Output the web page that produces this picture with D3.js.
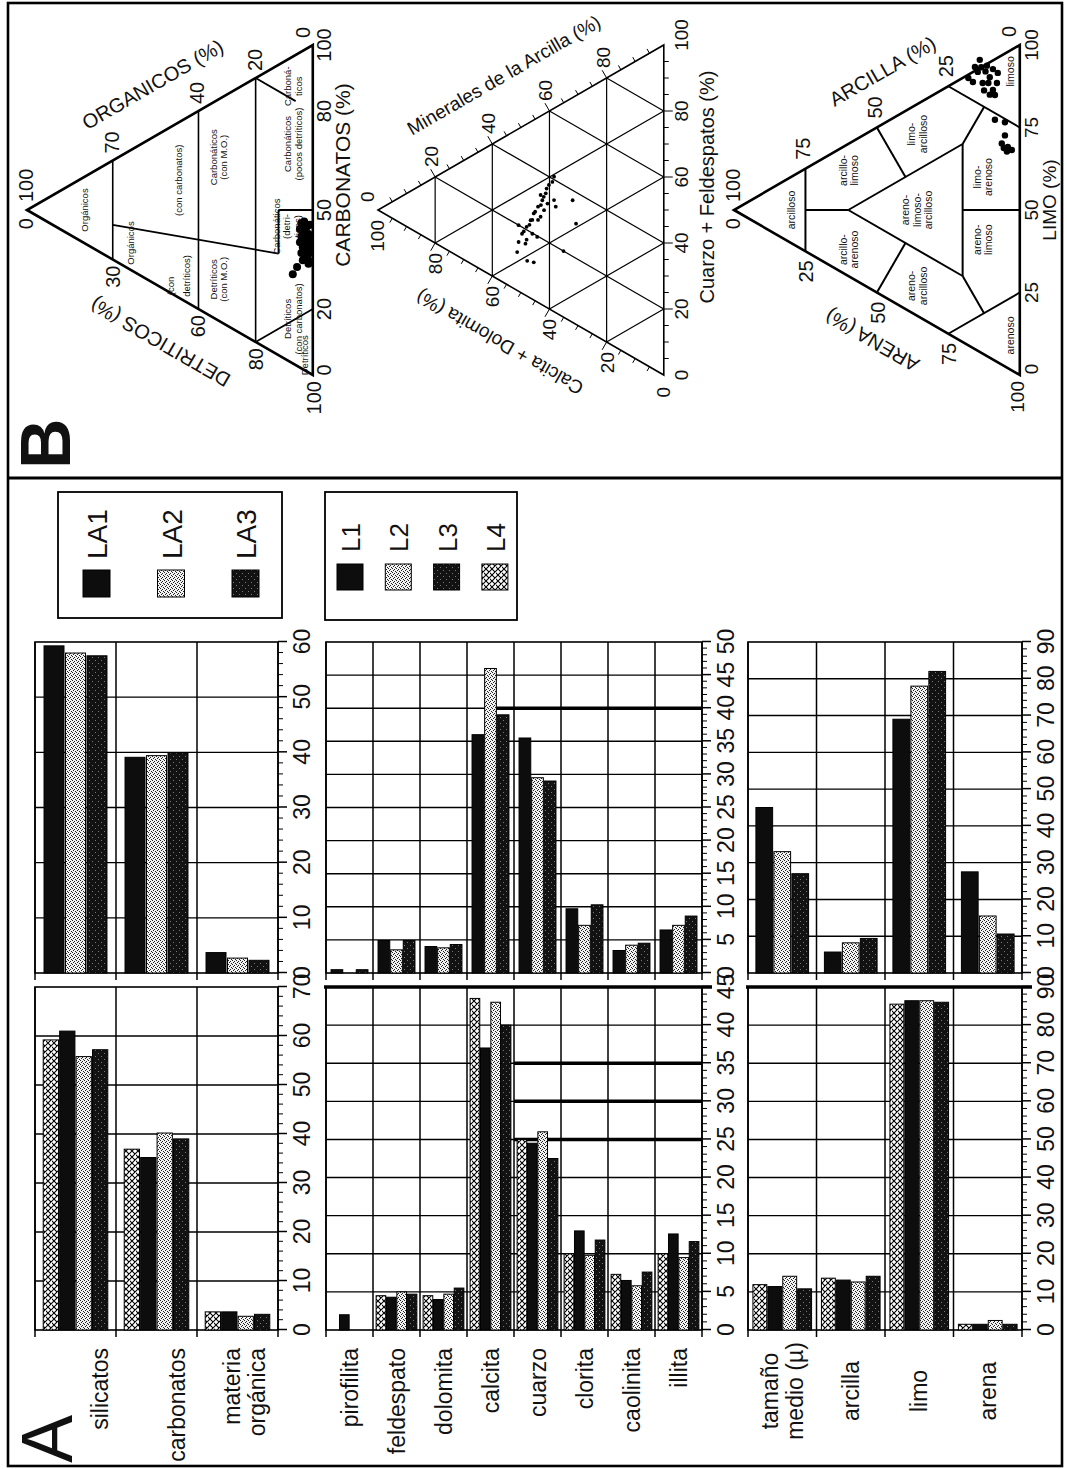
<!DOCTYPE html>
<html>
<head>
<meta charset="utf-8">
<script src="https://cdn.jsdelivr.net/npm/d3@7"></script>
<style>
  body { margin: 0; background: #fff; }
  svg text { font-family: "Liberation Sans", Arial, Helvetica, sans-serif; fill: #111; }
</style>
</head>
<body>
<svg id="fig" width="1067" height="1469"></svg>
<script>
// the figure is drawn landscape (1469 x 1067) and then turned a quarter to the left

// ---------- A : bar charts ----------
var bulkCats = ['silicatos', 'carbonatos', 'materia orgánica'];
var mineralCats = ['pirofilita', 'feldespato', 'dolomita', 'calcita', 'cuarzo', 'clorita', 'caolinita', 'illita'];
var grainCats = ['tamaño medio (µ)', 'arcilla', 'limo', 'arena'];

var lSeries = ['L4', 'L1', 'L2', 'L3'];   // order of the bars inside a group
var laSeries = ['LA1', 'LA2', 'LA3'];
var lLegend = ['L1', 'L2', 'L3', 'L4'];

var bulkL = [[59.2, 61.0, 55.8, 57.2], [36.9, 35.2, 40.2, 39.0], [3.7, 3.7, 2.8, 3.2]];
var bulkLA = [[59.3, 58.0, 57.5], [39.1, 39.4, 39.9], [3.7, 2.7, 2.3]];
var mineralL = [[0, 2.0, 0, 0], [4.5, 4.3, 5.0, 4.7], [4.5, 4.0, 4.7, 5.5], [43.5, 37.0, 43.0, 40.0],
                [25.0, 24.5, 26.0, 22.5], [10.0, 13.0, 9.8, 11.8], [7.3, 6.5, 5.8, 7.6], [10.0, 12.6, 9.5, 11.6]];
var mineralLA = [[0.5, 0, 0.5], [4.9, 3.5, 4.9], [4.0, 3.8, 4.3], [36.0, 46.0, 39.0],
                 [35.5, 29.5, 29.0], [9.7, 7.2, 10.3], [3.4, 4.2, 4.5], [6.5, 7.2, 8.6]];
var grainL = [[11.9, 11.4, 14.1, 10.8], [13.6, 13.1, 12.6, 14.1], [85.5, 86.4, 86.4, 86.0], [1.5, 1.5, 2.5, 1.5]];
var grainLA = [[45.0, 33.0, 27.0], [5.7, 8.2, 9.4], [69.0, 78.0, 82.0], [27.5, 15.5, 10.6]];

var ticks70 = [0, 10, 20, 30, 40, 50, 60, 70];
var ticks60 = [0, 10, 20, 30, 40, 50, 60];
var ticks45 = [0, 5, 10, 15, 20, 25, 30, 35, 40, 45];
var ticks50 = [0, 5, 10, 15, 20, 25, 30, 35, 40, 45, 50];
var ticks90 = [0, 10, 20, 30, 40, 50, 60, 70, 80, 90];

// ---------- B : ternary diagrams ----------
// organicos / carbonatos (%)
var organicPts = [[4.5, 38], [4.5, 42], [4, 35], [4, 40], [4, 44], [3.5, 37], [3.5, 33], [3.5, 41], [3, 45], [3, 36],
                  [3, 39], [3, 43], [2.5, 34], [2.5, 38], [2.5, 42], [2, 35], [2, 37], [2, 40], [2, 44], [1.5, 33],
                  [1.5, 36], [1.5, 39], [1.5, 42], [1, 34], [1, 38], [1, 41], [1, 45], [7, 27], [5.5, 30]];
// calcita+dolomita / cuarzo+feldespatos (%)
var mineralPts = [[38.4, 40.9], [40.2, 37.5], [41.3, 34.4], [42.5, 31.7], [44, 29], [45.5, 26.2], [46.6, 23.6],
                  [48, 20.9], [49.6, 18], [50.8, 14.9], [51.3, 11.6], [47.8, 10.7], [45.5, 11.4], [38.4, 33.8],
                  [37.8, 32.1], [31.9, 37], [30.7, 30.5], [35.1, 20], [43.1, 26.4], [41.9, 29], [46, 19.8],
                  [48.4, 15.6], [44.3, 19.7], [50.8, 20], [43.1, 33], [40.7, 31.6], [39, 39], [41, 36],
                  [43, 30], [45, 27], [47, 22], [49, 19], [42, 33], [44, 25], [46, 24], [48, 17]];
// arcilla / limo (%)
var texturePts = [[18, 81], [15.7, 85.5], [14, 88.5], [11.5, 88], [9.4, 88], [10.5, 85], [13, 82], [14.7, 84.5],
                  [16.4, 80.6], [8, 84.5], [7.7, 87.7], [9.4, 81.7], [10.5, 79.7], [8.7, 80.5], [12, 86],
                  [13.5, 86.5], [11, 83], [12.5, 80], [8.7, 73], [5.2, 74], [5.2, 70], [6.3, 67], [4.2, 67],
                  [4.5, 65.5], [2.8, 66.8], [5.6, 66]];

var t1Left = [30, 60, 80];          // DETRITICOS
var t1Right = [70, 40, 20];         // ORGANICOS
var t1Base = [0, 20, 50, 80, 100];  // CARBONATOS
var t2Side = [20, 40, 60, 80];
var t2Base = [0, 20, 40, 60, 80, 100];
var t3Side = [25, 50, 75];
var t3Base = [0, 25, 50, 75, 100];

// classification boundaries, as [top, right] fractions
var t1Lines = [[[.7, 0], [.7, .3]], [[.4, 0], [.4, .6]], [[.2, 0], [.2, .8]],
               [[.7, .105], [.12, .308]], [[.12, .308], [.12, .44]], [[.12, .44], [0, .5]],
               [[.2, 0], [0, .2]], [[.2, .8], [.06, .8]]];
var t3Lines = [[[.75, 0], [.75, .25]], [[.75, .125], [.6, .2]], [[.6, .2], [.2, .6]], [[.6, .2], [.2, .2]],
               [[.2, .2], [.2, .6]], [[.4, .4], [.5, .5]], [[.4, .2], [.5, 0]], [[.2, .6], [.125, .75]],
               [[.25, .75], [0, .75]], [[.2, .2], [.125, .125]], [[.25, 0], [0, .25]], [[.2, .4], [0, .5]]];

// region names, [lines], top fraction of first line, lateral position along the base
var t1Names = [
  [['Orgánicos'], .80, .50], [['Orgánicos'], .64, .40], [['(con'], .50, .27], [['detríticos)'], .445, .30],
  [['(con carbonatos)'], .47, .59], [['Carbonáticos', '(con M.O.)'], .35, .66], [['Detríticos', '(con M.O.)'], .35, .29],
  [['Detríticos', '(con carbonatos)'], .09, .17], [['Carbonáticos', '(pocos detríticos)'], .09, .70],
  [['Carbonáticos', '(detri-', 'ticos)'], .13, .45], [['Carboná-', 'ticos'], .09, .875], [['Detríticos'], .03, .06]];
var t3Names = [
  [['arcilloso'], .80, .5], [['arcillo-', 'limoso'], .62, .62], [['arcillo-', 'arenoso'], .62, .38],
  [['limo-', 'arcilloso'], .38, .73], [['areno-', 'limoso-', 'arcilloso'], .40, .5], [['areno-', 'arcilloso'], .38, .27],
  [['limo-', 'arenoso'], .15, .6], [['areno-', 'limoso'], .15, .41], [['arenoso'], .035, .12], [['limoso'], .035, .92]];

var svg = d3.select('#fig');
var defs = svg.append('defs');

function pattern(id, size, bg, draw) {
  var p = defs.append('pattern').attr('id', id).attr('patternUnits', 'userSpaceOnUse')
    .attr('width', size).attr('height', size);
  p.append('rect').attr('width', size).attr('height', size).attr('fill', bg);
  draw(p);
}
pattern('pDots', 4, '#f2f2f2', function (p) {
  [[0, 0], [2, 1], [1, 3], [3, 2]].forEach(function (d) {
    p.append('rect').attr('x', d[0]).attr('y', d[1]).attr('width', 1).attr('height', 1).attr('fill', '#222');
  });
});
pattern('pDark', 6, '#121212', function (p) {
  [[1, 2], [4, 5]].forEach(function (d) {
    p.append('rect').attr('x', d[0]).attr('y', d[1]).attr('width', 1).attr('height', 1).attr('fill', '#777');
  });
});
pattern('pCross', 6, '#fff', function (p) {
  p.append('path').attr('d', 'M0,0L6,6M6,0L0,6M-1,5L1,7M5,-1L7,1').attr('stroke', '#000').attr('stroke-width', 1.1);
});

var fills = {L1: '#0d0d0d', L2: 'url(#pDots)', L3: 'url(#pDark)', L4: 'url(#pCross)',
             LA1: '#0d0d0d', LA2: 'url(#pDots)', LA3: 'url(#pDark)'};

var g = svg.append('g').attr('transform', 'translate(0,1469) rotate(-90)');

var charts = [
  {cats: bulkCats, series: lSeries, vals: bulkL, ticks: ticks70, minor: 2, x0: 139, x1: 482, y0: 35, y1: 278,
   padOut: 0.5, labels: true, anchor: 'end', shift: [24, 20, 7], heavy: []},
  {cats: bulkCats, series: laSeries, vals: bulkLA, ticks: ticks60, minor: 2, x0: 496, x1: 827, y0: 35, y1: 278,
   padOut: 0.42, heavy: []},
  {cats: mineralCats, series: lSeries, vals: mineralL, ticks: ticks45, minor: 1, x0: 139, x1: 482, y0: 326, y1: 702,
   padOut: 0.3, labels: true, anchor: 'end', heavy: [[45, 0], [35, 4], [30, 4], [25, 4]]},
  {cats: mineralCats, series: laSeries, vals: mineralLA, ticks: ticks50, minor: 1, x0: 496, x1: 827, y0: 326, y1: 702,
   padOut: 0.4, heavy: [[40, 3.55]]},
  {cats: grainCats, series: lSeries, vals: grainL, ticks: ticks90, minor: 2, x0: 139, x1: 482, y0: 748, y1: 1022,
   padOut: 0.33, labels: true, anchor: 'middle', heavy: [[90, 0]]},
  {cats: grainCats, series: laSeries, vals: grainLA, ticks: ticks90, minor: 2, x0: 496, x1: 827, y0: 748, y1: 1022,
   padOut: 0.44, heavy: []}
];

function catLines(name) {
  var i = name.indexOf(' ');
  return (name.length > 11 && i > 0) ? [name.slice(0, i), name.slice(i + 1)] : [name];
}

charts.forEach(function (c) {
  var max = c.ticks[c.ticks.length - 1];
  var x = d3.scaleLinear().domain([0, max]).range([c.x0, c.x1]);
  var y = d3.scaleBand().domain(c.cats).range([c.y0, c.y1]);
  var inner = d3.scaleBand().domain(c.series).range([0, y.bandwidth()]).paddingInner(0.07).paddingOuter(c.padOut);
  var cg = g.append('g');

  cg.selectAll('line.grid').data(c.ticks.slice(1, -1)).enter().append('line')
    .attr('x1', x).attr('x2', x).attr('y1', c.y0).attr('y2', c.y1)
    .attr('stroke', '#000').attr('stroke-width', 1.4);
  cg.selectAll('line.heavy').data(c.heavy).enter().append('line')
    .attr('x1', function (d) { return x(d[0]); }).attr('x2', function (d) { return x(d[0]); })
    .attr('y1', function (d) { return d[1] === 0 ? c.y0 - 2 : c.y0 + d[1] * y.step(); })
    .attr('y2', function (d) { return d[0] === max ? c.y1 + 10 : c.y1; })
    .attr('stroke', '#000').attr('stroke-width', 3.5);
  cg.selectAll('line.sep').data(c.cats.concat(['end'])).enter().append('line')
    .attr('x1', c.x0 - 7).attr('x2', c.x1)
    .attr('y1', function (d) { return d === 'end' ? c.y1 : y(d); })
    .attr('y2', function (d) { return d === 'end' ? c.y1 : y(d); })
    .attr('stroke', '#000').attr('stroke-width', 1.5);
  cg.append('rect').attr('x', c.x0).attr('y', c.y0).attr('width', c.x1 - c.x0).attr('height', c.y1 - c.y0)
    .attr('fill', 'none').attr('stroke', '#000').attr('stroke-width', 1.6);

  c.cats.forEach(function (cat, i) {
    var rows = c.vals[i].map(function (v, j) { return {s: c.series[j], v: v}; })
      .filter(function (d) { return d.v > 0; });
    cg.selectAll(null).data(rows).enter().append('rect')
      .attr('x', x(0)).attr('y', function (d) { return y(cat) + inner(d.s); })
      .attr('width', function (d) { return x(d.v) - x(0); }).attr('height', inner.bandwidth())
      .attr('fill', function (d) { return fills[d.s]; }).attr('stroke', '#000').attr('stroke-width', 1);
  });

  var ax = cg.append('g').attr('transform', 'translate(0,' + c.y1 + ')')
    .call(d3.axisBottom(x).tickValues(c.ticks).tickSize(9).tickPadding(7).tickFormat(d3.format('d')));
  ax.select('.domain').remove();
  ax.attr('font-size', 23).attr('font-family', '"Liberation Sans", Arial, sans-serif');
  ax.selectAll('line').attr('stroke-width', 1.5);
  var minorVals = d3.range(0, max, c.minor).filter(function (v) { return c.ticks.indexOf(v) < 0; });
  var mx = cg.append('g').attr('transform', 'translate(0,' + c.y1 + ')')
    .call(d3.axisBottom(x).tickValues(minorVals).tickSize(5).tickFormat(''));
  mx.select('.domain').remove();

  if (c.labels) {
    c.cats.forEach(function (cat, i) {
      var lines = catLines(cat);
      var cy = y(cat) + y.bandwidth() / 2 + (c.shift ? c.shift[i] : 0);
      var t = cg.append('text').attr('font-size', 23).attr('text-anchor', c.anchor);
      lines.forEach(function (s, k) {
        t.append('tspan').attr('x', c.anchor === 'end' ? 121 : 78)
          .attr('y', cy + (k - (lines.length - 1) / 2) * 25 + 8).text(s);
      });
    });
  }
});

// legends
var legends = [
  {items: laSeries, x: 851, y: 58, w: 126, h: 224, sx: 872, sy: 83, step: 74.5, size: 27, tx: 910, font: 28},
  {items: lLegend, x: 849, y: 325, w: 128, h: 192, sx: 879, sy: 337, step: 48.3, size: 26, tx: 917, font: 26}
];
legends.forEach(function (L) {
  g.append('rect').attr('x', L.x).attr('y', L.y).attr('width', L.w).attr('height', L.h)
    .attr('fill', '#fff').attr('stroke', '#000').attr('stroke-width', 1.8);
  L.items.forEach(function (s, i) {
    var yy = L.sy + i * L.step;
    g.append('rect').attr('x', L.sx).attr('y', yy).attr('width', L.size).attr('height', L.size)
      .attr('fill', fills[s]).attr('stroke', '#000').attr('stroke-width', 1);
    g.append('text').attr('x', L.tx).attr('y', yy + L.size - 3).attr('font-size', L.font).text(s);
  });
});

g.append('text').attr('x', 6).attr('y', 72).attr('font-size', 72).text('A');

// ---------- ternary diagrams ----------
var side = 330, tH = side * Math.sqrt(3) / 2;
var triCx = 1259, triTop = [27, 378, 734];
function tp(k, top, right) {
  var bx = triCx - side / 2, by = triTop[k] + tH;
  return [bx + side * right + side / 2 * top, by - tH * top];
}
function segment(k, a, b, w) {
  var p = tp(k, a[0], a[1]), q = tp(k, b[0], b[1]);
  g.append('line').attr('x1', p[0]).attr('y1', p[1]).attr('x2', q[0]).attr('y2', q[1])
    .attr('stroke', '#000').attr('stroke-width', w);
}
function outline(k, w) {
  g.append('path').attr('d', d3.line()([tp(k, 1, 0), tp(k, 0, 0), tp(k, 0, 1)]) + 'Z')
    .attr('fill', 'none').attr('stroke', '#000').attr('stroke-width', w).attr('stroke-linejoin', 'miter');
}
function label(x, y, s, size, anchor) {
  g.append('text').attr('x', x).attr('y', y).attr('font-size', size).attr('text-anchor', anchor || 'middle').text(s);
}
function edgeTitle(k, sideName, f, d, s, size) {
  var a = tp(k, 1, 0), b = sideName === 'L' ? tp(k, 0, 0) : tp(k, 0, 1);
  var px = a[0] + (b[0] - a[0]) * f, py = a[1] + (b[1] - a[1]) * f;
  var nx = sideName === 'L' ? -0.866 : 0.866, ang = sideName === 'L' ? -60 : 60;
  g.append('text').attr('transform', 'translate(' + (px + nx * d) + ',' + (py - 0.5 * d) + ') rotate(' + ang + ')')
    .attr('text-anchor', 'middle').attr('dy', '0.35em').attr('font-size', size).text(s);
}
function names(k, list, size, lh) {
  list.forEach(function (n) {
    n[0].forEach(function (s, i) {
      var bx = triCx - side / 2, by = triTop[k] + tH;
      label(bx + side * n[2], by - tH * n[1] + 4 + i * lh, s, size);
    });
  });
}

// T1 organicos - detriticos - carbonatos
t1Lines.forEach(function (l, i) { segment(0, l[0], l[1], i < 3 ? 1.6 : 1.8); });
outline(0, 2.6);
g.selectAll(null).data(organicPts).enter().append('circle')
  .attr('cx', function (d) { return tp(0, d[0] / 100, d[1] / 100)[0]; })
  .attr('cy', function (d) { return tp(0, d[0] / 100, d[1] / 100)[1]; })
  .attr('r', 4).attr('fill', '#000');
names(0, t1Names, 9.5, 10.5);
t1Left.forEach(function (v) { var p = tp(0, 1 - v / 100, 0); label(p[0] - 6, p[1] + 7, v, 20, 'end'); });
t1Right.forEach(function (v) { var p = tp(0, v / 100, 1 - v / 100); label(p[0] + 7, p[1] + 6, v, 20, 'start'); });
t1Base.forEach(function (v) { var p = tp(0, 0, v / 100); label(p[0] + (v === 0 ? 5 : 0), p[1] + 18, v, 20); });
(function () {
  var a = tp(0, 1, 0), bl = tp(0, 0, 0), br = tp(0, 0, 1);
  label(a[0] - 8, a[1] + 6, 0, 20, 'end');
  label(a[0] + 8, a[1] + 6, 100, 20, 'start');
  label(bl[0] - 6, bl[1] + 8, 100, 20, 'end');
  label(br[0] + 7, br[1] - 3, 0, 20, 'start');
})();
edgeTitle(0, 'R', 0.52, 46, 'ORGANICOS (%)', 20);
edgeTitle(0, 'L', 0.55, 48, 'DETRITICOS (%)', 20);
label(1294, triTop[0] + tH + 37, 'CARBONATOS (%)', 21);

// T2 arcilla - calcita+dolomita - cuarzo+feldespatos
[0.2, 0.4, 0.6, 0.8].forEach(function (v) {
  segment(1, [v, 0], [v, 1 - v], 1.2);
  segment(1, [0, v], [1 - v, v], 1.2);
  segment(1, [0, 1 - v], [1 - v, 0], 1.2);
});
outline(1, 1.6);
d3.range(1, 20).forEach(function (i) {
  var f = i / 20, len = i % 4 === 0 ? 9 : 5;
  var p = tp(1, f, 0); g.append('line').attr('x1', p[0]).attr('y1', p[1]).attr('x2', p[0] - 0.866 * len).attr('y2', p[1] - 0.5 * len).attr('stroke', '#000');
  p = tp(1, 1 - f, f); g.append('line').attr('x1', p[0]).attr('y1', p[1]).attr('x2', p[0] + 0.866 * len).attr('y2', p[1] - 0.5 * len).attr('stroke', '#000');
  p = tp(1, 0, f); g.append('line').attr('x1', p[0]).attr('y1', p[1]).attr('x2', p[0]).attr('y2', p[1] + len).attr('stroke', '#000');
});
g.selectAll(null).data(mineralPts).enter().append('circle')
  .attr('cx', function (d) { return tp(1, d[0] / 100, d[1] / 100)[0]; })
  .attr('cy', function (d) { return tp(1, d[0] / 100, d[1] / 100)[1]; })
  .attr('r', 1.9).attr('fill', '#000');
t2Side.forEach(function (v) {
  var p = tp(1, v / 100, 0); label(p[0] - 10, p[1] + 7, v, 19, 'end');
  p = tp(1, 1 - v / 100, v / 100); label(p[0] + 10, p[1] + 3, v, 19, 'start');
});
t2Base.forEach(function (v) { var p = tp(1, 0, v / 100); label(p[0] + (v === 100 ? 10 : 0), p[1] + 24, v, 19); });
(function () {
  var a = tp(1, 1, 0), bl = tp(1, 0, 0);
  label(a[0] - 10, a[1] + 6, 100, 19, 'end');
  label(a[0] + 8, a[1] - 4, 0, 19, 'start');
  label(bl[0] - 12, bl[1] + 6, 0, 19, 'end');
})();
edgeTitle(1, 'L', 0.52, 54, 'Calcita + Dolomita (%)', 19);
edgeTitle(1, 'R', 0.535, 54, 'Minerales de la Arcilla (%)', 19);
label(1282, triTop[1] + tH + 50, 'Cuarzo + Feldespatos (%)', 20);

// T3 arcilla - arena - limo
t3Lines.forEach(function (l) { segment(2, l[0], l[1], 2); });
outline(2, 2.6);
g.selectAll(null).data(texturePts).enter().append('circle')
  .attr('cx', function (d) { return tp(2, d[0] / 100, d[1] / 100)[0]; })
  .attr('cy', function (d) { return tp(2, d[0] / 100, d[1] / 100)[1]; })
  .attr('r', 3.2).attr('fill', '#000');
names(2, t3Names, 10.5, 11.5);
t3Side.forEach(function (v) {
  var p = tp(2, v / 100, 1 - v / 100); label(p[0] + 9, p[1] + 5, v, 20, 'start');
  p = tp(2, 1 - v / 100, 0); label(p[0] - 9, p[1] + 8, v, 20, 'end');
});
t3Base.forEach(function (v) { var p = tp(2, 0, v / 100); label(p[0] + (v === 0 ? 6 : 0), p[1] + 18, v, 19); });
(function () {
  var a = tp(2, 1, 0), bl = tp(2, 0, 0), br = tp(2, 0, 1);
  label(a[0] - 8, a[1] + 6, 0, 20, 'end');
  label(a[0] + 8, a[1] + 6, 100, 20, 'start');
  label(bl[0] - 6, bl[1] + 4, 100, 19, 'end');
  label(br[0] + 8, br[1] - 4, 0, 20, 'start');
})();
edgeTitle(2, 'R', 0.6, 46, 'ARCILLA (%)', 20);
edgeTitle(2, 'L', 0.56, 44, 'ARENA (%)', 20);
label(1269, triTop[2] + tH + 36, 'LIMO (%)', 19);

g.append('text').attr('x', 1000).attr('y', 70).attr('font-size', 70).attr('font-weight', 'bold').text('B');

// frames
g.append('rect').attr('x', 3).attr('y', 8).attr('width', 1463).attr('height', 1054)
  .attr('fill', 'none').attr('stroke', '#000').attr('stroke-width', 2.6);
g.append('line').attr('x1', 991).attr('x2', 991).attr('y1', 8).attr('y2', 1062)
  .attr('stroke', '#000').attr('stroke-width', 3.2);
</script>
</body>
</html>
